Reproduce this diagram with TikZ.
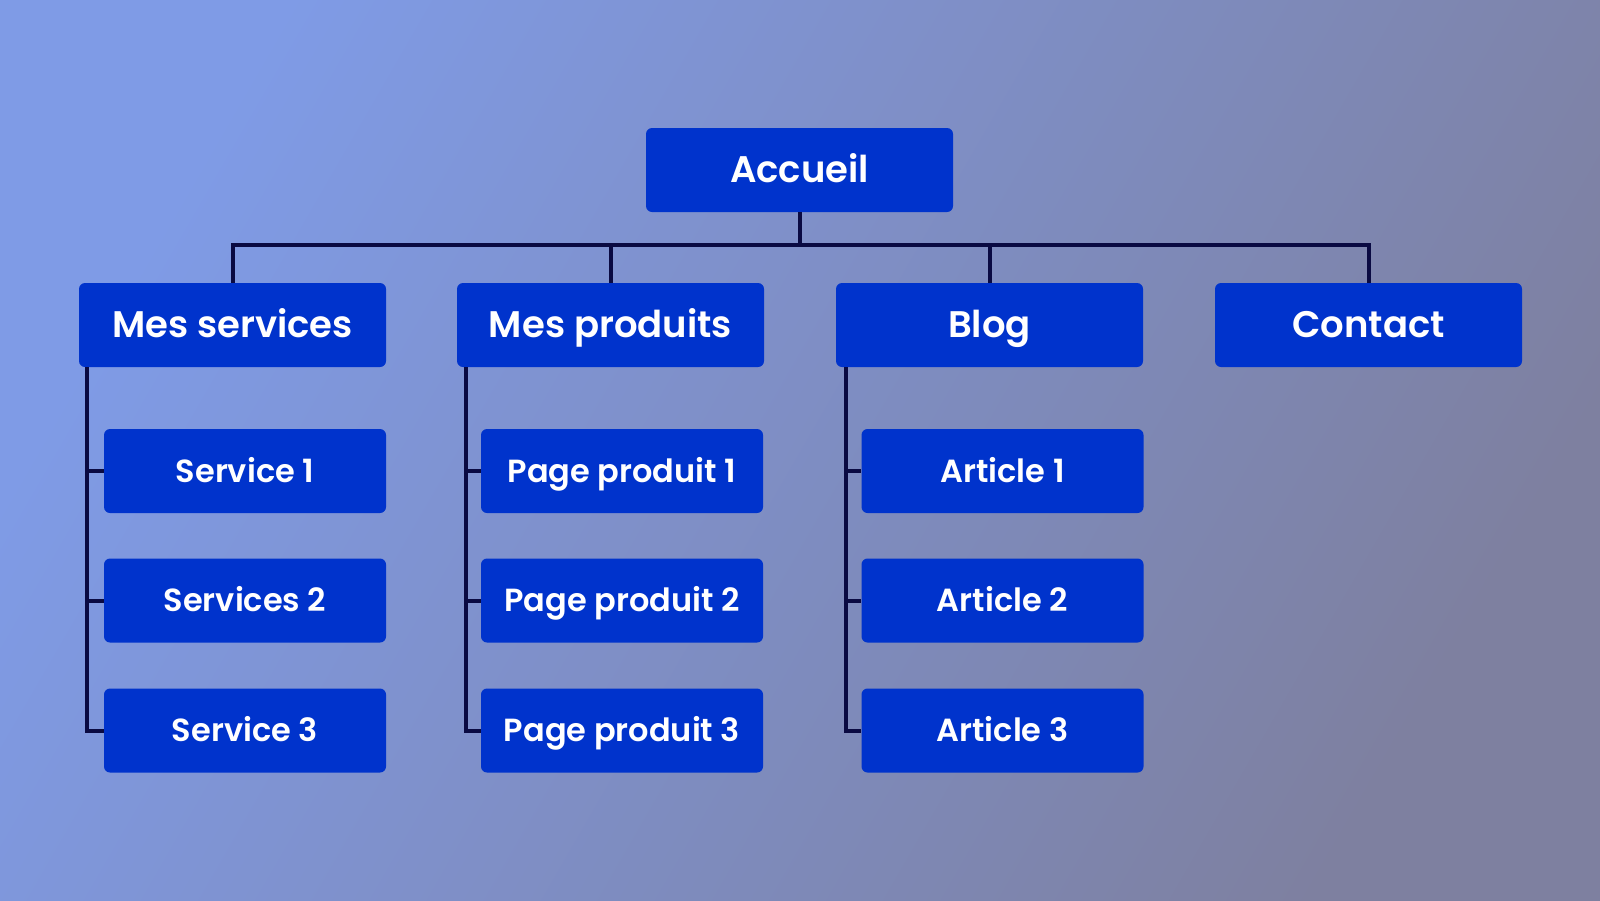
\documentclass[tikz,border=0pt]{standalone}
\usepackage{fontspec}
\setmainfont{Poppins}[BoldFont={Poppins SemiBold}]
\usepackage{tikz}

\definecolor{fondhaut}{RGB}{127,155,230}
\definecolor{fondmilieu}{RGB}{128,145,200}
\definecolor{fondbas}{RGB}{126,128,160}
\definecolor{boite}{RGB}{0,51,204}
\definecolor{trait}{RGB}{10,10,66}

\begin{document}
\begin{tikzpicture}[x=1pt, y=-1pt,
		page/.style={fill=boite, rounded corners=6pt, text=white, inner sep=0pt,
			text height=25.8pt, text depth=0pt,
			minimum width=307pt, minimum height=84pt, font=\bfseries\fontsize{37}{42}\selectfont},
		souspage/.style={page, minimum width=282pt, text height=22.3pt,
			font=\bfseries\fontsize{32}{37}\selectfont},
		lien/.style={draw=trait, line width=4pt}]
		\useasboundingbox (0,0) rectangle (1600,900);
		\shade [top color=fondhaut, middle color=fondmilieu, bottom color=fondbas, shading angle=60] (0,0) rectangle (1600,900);
		
		% page d'accueil
		\node [page] (acc) at (799.5,170) {Accueil};
		
		% premier niveau
		\node [page] (serv) at (232.5,325) {Mes services};
		\node [page] (prod) at (610.5,325) {Mes produits};
		\node [page] (blog) at (989.5,325) {Blog};
		\node [page] (cont) at (1368.5,325) {Contact};
		
		\draw [lien] (acc.south) -- ++(0,33) -| (serv.north);
		\draw [lien] (acc.south) -- ++(0,33) -| (prod.north);
		\draw [lien] (acc.south) -- ++(0,33) -| (blog.north);
		\draw [lien] (acc.south) -- ++(0,33) -| (cont.north);
		
		% sous-pages
		\node [souspage] (serv1) at (245,471) {Service 1};
		\node [souspage] (serv2) at (245,600.5) {Services 2};
		\node [souspage] (serv3) at (245,730.5) {Service 3};
		
		\node [souspage] (prod1) at (622,471) {Page produit 1};
		\node [souspage] (prod2) at (622,600.5) {Page produit 2};
		\node [souspage] (prod3) at (622,730.5) {Page produit 3};
		
		\node [souspage] (art1) at (1002.5,471) {Article 1};
		\node [souspage] (art2) at (1002.5,600.5) {Article 2};
		\node [souspage] (art3) at (1002.5,730.5) {Article 3};
		
		\draw [lien] ([xshift=8pt]serv.south west) |- (serv1.west);
		\draw [lien] ([xshift=8pt]serv.south west) |- (serv2.west);
		\draw [lien] ([xshift=8pt]serv.south west) |- (serv3.west);
		
		\draw [lien] ([xshift=9pt]prod.south west) |- (prod1.west);
		\draw [lien] ([xshift=9pt]prod.south west) |- (prod2.west);
		\draw [lien] ([xshift=9pt]prod.south west) |- (prod3.west);
		
		\draw [lien] ([xshift=10pt]blog.south west) |- (art1.west);
		\draw [lien] ([xshift=10pt]blog.south west) |- (art2.west);
		\draw [lien] ([xshift=10pt]blog.south west) |- (art3.west);
\end{tikzpicture}
\end{document}
